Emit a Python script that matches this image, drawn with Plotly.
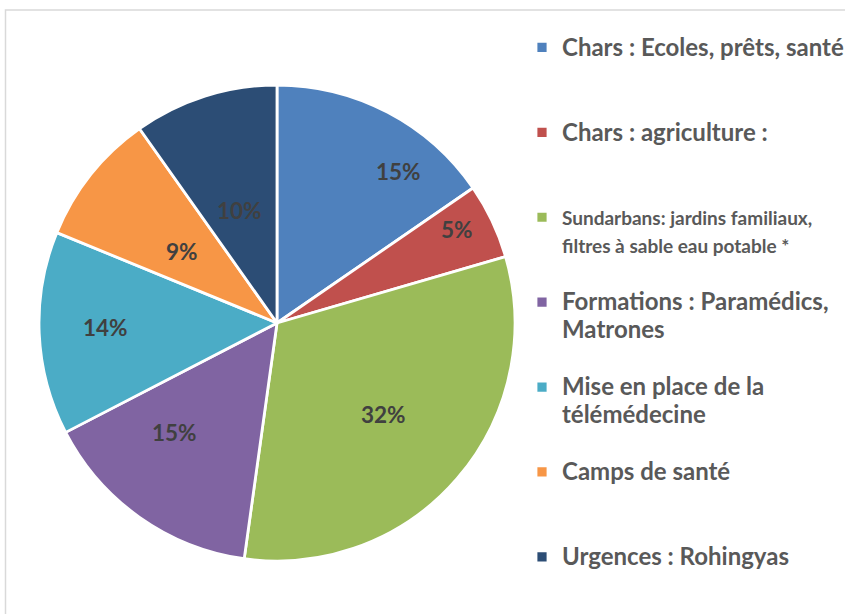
import math
import plotly.graph_objects as go

categories = [
    "Chars : Ecoles, prêts, santé",
    "Chars : agriculture :",
    "Sundarbans: jardins familiaux,<br>filtres à sable eau potable *",
    "Formations : Paramédics,<br>Matrones",
    "Mise en place de la<br>télémédecine",
    "Camps de santé",
    "Urgences : Rohingyas",
]
values = [15.4, 5.1, 31.7, 15.2, 13.8, 9.0, 9.8]
colors = ["#4F81BD", "#C0504D", "#9BBB59", "#8064A2", "#4BACC6", "#F79646", "#2C4D75"]

# label placement inside each slice (style): fraction along the slice, fraction of radius
label_t = [0.70, 0.39, 0.50, 0.64, 0.52, 0.45, 0.48]
label_r = [0.815, 0.85, 0.59, 0.63, 0.72, 0.50, 0.50]

legend_font_px = [24, 24, 19, 24, 24, 24, 24]


def legend_label(i, name):
    parts = name.split("<br>")
    parts = ['<span style="font-size:%dpx">%s</span>' % (legend_font_px[i], p) for p in parts]
    lines = ["\u00a0"] + parts
    if len(parts) == 1:
        lines.append("\u00a0")
    return "<br>".join(lines)


labels = [legend_label(i, c) for i, c in enumerate(categories)]

W, H = 845, 614
cx, cy, R = 277, 323, 238

fig = go.Figure(
    go.Pie(
        labels=labels,
        values=values,
        sort=False,
        direction="clockwise",
        rotation=0,
        marker=dict(colors=colors, line=dict(color="white", width=2.8)),
        textinfo="none",
        domain=dict(x=[(cx - R) / W, (cx + R) / W], y=[(H - cy - R) / H, (H - cy + R) / H]),
        hoverinfo="label+percent",
    )
)

# percentage labels, placed from the data (cumulative share -> angle)
total = sum(values)
annotations = []
cum = 0.0
for i, v in enumerate(values):
    a0 = cum / total * 360
    a1 = (cum + v) / total * 360
    cum += v
    a = math.radians(a0 + label_t[i] * (a1 - a0))
    x = cx + label_r[i] * R * math.sin(a)
    y = cy - label_r[i] * R * math.cos(a)
    annotations.append(
        dict(
            x=x / W,
            y=1 - y / H,
            xref="paper",
            yref="paper",
            text="%d%%" % round(v / total * 100),
            showarrow=False,
            xanchor="center",
            yanchor="middle",
            font=dict(family="Lato", size=22.5, color="#404040", weight="bold"),
        )
    )

fig.update_layout(
    width=W,
    height=H,
    margin=dict(l=0, r=0, t=0, b=0, autoexpand=False),
    paper_bgcolor="white",
    plot_bgcolor="white",
    showlegend=True,
    legend=dict(
        x=522 / W,
        xanchor="left",
        y=1,
        yanchor="top",
        font=dict(family="Lato", size=21, color="#595959", weight="bold"),
        bgcolor="rgba(0,0,0,0)",
        traceorder="normal",
    ),
    annotations=annotations,
    shapes=[
        dict(
            type="rect",
            xref="paper",
            yref="paper",
            x0=5.5 / W,
            x1=1.2,
            y0=-0.2,
            y1=1 - 10 / H,
            line=dict(color="#D9D9D9", width=1.5),
            fillcolor="rgba(0,0,0,0)",
            layer="below",
        )
    ],
)

fig.write_html(
    "out.html",
    config={"displayModeBar": False},
    post_script="document.body.style.margin='0';",
)
